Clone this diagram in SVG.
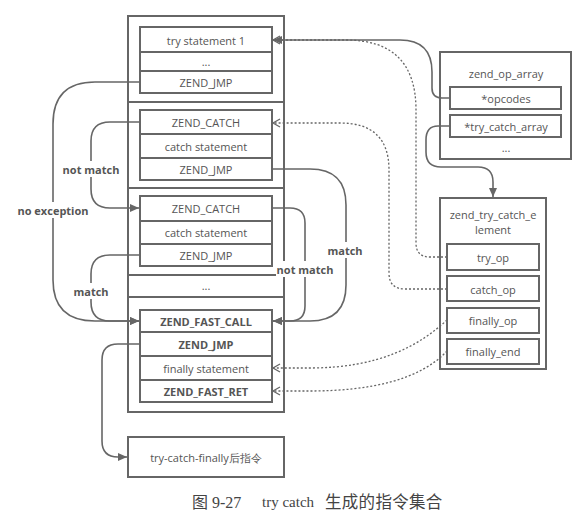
<svg xmlns="http://www.w3.org/2000/svg" width="588" height="518" viewBox="0 0 588 518">
<defs>
<marker id="solid" markerUnits="userSpaceOnUse" markerWidth="10" markerHeight="10" refX="9" refY="5" orient="auto">
<path d="M0,1 L9,5 L0,9 z" fill="#666"/>
</marker>
<marker id="open" markerUnits="userSpaceOnUse" markerWidth="10" markerHeight="10" refX="8" refY="5" orient="auto">
<path d="M1,1 L8,5 L1,9" fill="none" stroke="#666" stroke-width="1.3"/>
</marker>
</defs>
<style>
rect{fill:#fff;stroke:#666;stroke-width:2}
text{font-family:"Open Sans","DejaVu Sans",sans-serif;font-size:11px;fill:#555;text-anchor:middle;dominant-baseline:central}
.b{font-weight:bold}
.lbl{font-weight:bold;fill:#555}
.bg{fill:#fff;stroke:none}
.sol{fill:none;stroke:#666;stroke-width:1.6;marker-end:url(#solid)}
.dot{fill:none;stroke:#666;stroke-width:1.3;stroke-dasharray:2,2;marker-end:url(#open)}
.cap{font-family:"Liberation Serif","Noto Sans CJK SC",serif;font-size:15px;fill:#444;text-anchor:start}
</style>

<g id="sec1">
<rect x="128" y="16" width="156" height="86"/>
<rect x="140" y="27" width="132" height="25"/><text x="206" y="40">try statement 1</text>
<rect x="140" y="52" width="132" height="19"/><text x="206" y="61">...</text>
<rect x="140" y="71" width="132" height="22"/><text x="206" y="82">ZEND_JMP</text>
</g>
<g id="sec2">
<rect x="128" y="102" width="156" height="86"/>
<rect x="140" y="110" width="132" height="24"/><text x="206" y="122">ZEND_CATCH</text>
<rect x="140" y="134" width="132" height="24"/><text x="206" y="146">catch statement</text>
<rect x="140" y="158" width="132" height="22"/><text x="206" y="169">ZEND_JMP</text>
</g>
<g id="sec3">
<rect x="128" y="188" width="156" height="87"/>
<rect x="140" y="196" width="132" height="25"/><text x="206" y="208">ZEND_CATCH</text>
<rect x="140" y="221" width="132" height="23"/><text x="206" y="232">catch statement</text>
<rect x="140" y="244" width="132" height="22"/><text x="206" y="255">ZEND_JMP</text>
</g>
<g id="sec4">
<rect x="128" y="275" width="156" height="22"/><text x="206" y="285">...</text>
</g>
<g id="sec5">
<rect x="128" y="297" width="156" height="115"/>
<rect x="140" y="310" width="132" height="22"/><text class="b" x="206" y="321">ZEND_FAST_CALL</text>
<rect x="140" y="332" width="132" height="24"/><text class="b" x="206" y="344">ZEND_JMP</text>
<rect x="140" y="356" width="132" height="24"/><text x="206" y="368">finally statement</text>
<rect x="140" y="380" width="132" height="22"/><text class="b" x="206" y="391">ZEND_FAST_RET</text>
</g>
<g id="after">
<rect x="128" y="437" width="156" height="40"/><text x="206" y="457">try-catch-finally后指令</text>
</g>
<g id="op_array">
<rect x="440" y="52" width="131" height="107"/>
<text x="506" y="73">zend_op_array</text>
<rect x="450" y="87" width="111" height="22"/><text x="506" y="98">*opcodes</text>
<rect x="450" y="115" width="111" height="22"/><text x="506" y="126">*try_catch_array</text>
<text x="506" y="147">...</text>
</g>
<g id="try_catch_element">
<rect x="440" y="198" width="106" height="171"/>
<text x="493" y="214">zend_try_catch_e</text>
<text x="493" y="229">lement</text>
<rect x="447" y="244" width="92" height="26"/><text x="493" y="257">try_op</text>
<rect x="447" y="276" width="92" height="25"/><text x="493" y="289">catch_op</text>
<rect x="447" y="308" width="92" height="25"/><text x="493" y="320">finally_op</text>
<rect x="447" y="339" width="92" height="25"/><text x="493" y="351">finally_end</text>
</g>

<g id="connectors">
<path class="sol" d="M140,82 H95 Q53,82 53,124 V280 Q53,321 95,321 H139"/>
<path class="sol" d="M140,122 H110 Q91,122 91,141 V189 Q91,208 110,208 H139"/>
<path class="sol" d="M140,255 H110 Q91,255 91,274 V302 Q91,321 110,321 H139"/>
<path class="sol" d="M140,344 H118 Q102,344 102,360 V441 Q102,457 118,457 H127"/>
<path class="sol" d="M272,169 H310 Q346,169 346,205 V285 Q346,321 310,321 H273"/>
<path class="sol" d="M272,208 H290 Q305,208 305,223 V306 Q305,321 290,321 H273"/>
<path class="sol" d="M450,98 H442 Q432,98 432,88 V72 Q432,40 400,40 H273"/>
<path class="sol" d="M450,126 H438 Q426,126 426,140 V152 Q426,167 441,167 H478 Q493,167 493,182 V197"/>
<path class="dot" d="M447,257 H430 Q416,257 416,243 V110 Q416,40 346,40 H273"/>
<path class="dot" d="M447,289 H405 Q389,289 389,273 V170 Q389,123 340,123 H273"/>
<path class="dot" d="M447,320 C420,345 380,368 310,368 H273"/>
<path class="dot" d="M447,351 C420,380 370,391 310,391 H273"/>
<rect class="bg" x="16" y="202" width="74" height="16"/>
<text class="lbl" x="53" y="210">no exception</text>
<rect class="bg" x="62" y="161" width="58" height="16"/>
<text class="lbl" x="91" y="169">not match</text>
<rect class="bg" x="73" y="283" width="36" height="16"/>
<text class="lbl" x="91" y="291">match</text>
<rect class="bg" x="327" y="242" width="37" height="16"/>
<text class="lbl" x="345" y="250">match</text>
<rect class="bg" x="276" y="261" width="58" height="16"/>
<text class="lbl" x="305" y="269">not match</text>
</g>
<text class="cap" y="502"><tspan x="192" font-size="16">图 9-27</tspan><tspan x="262">try catch</tspan><tspan x="325" font-size="16.5" letter-spacing="0.3">生成的指令集合</tspan></text>
</svg>
